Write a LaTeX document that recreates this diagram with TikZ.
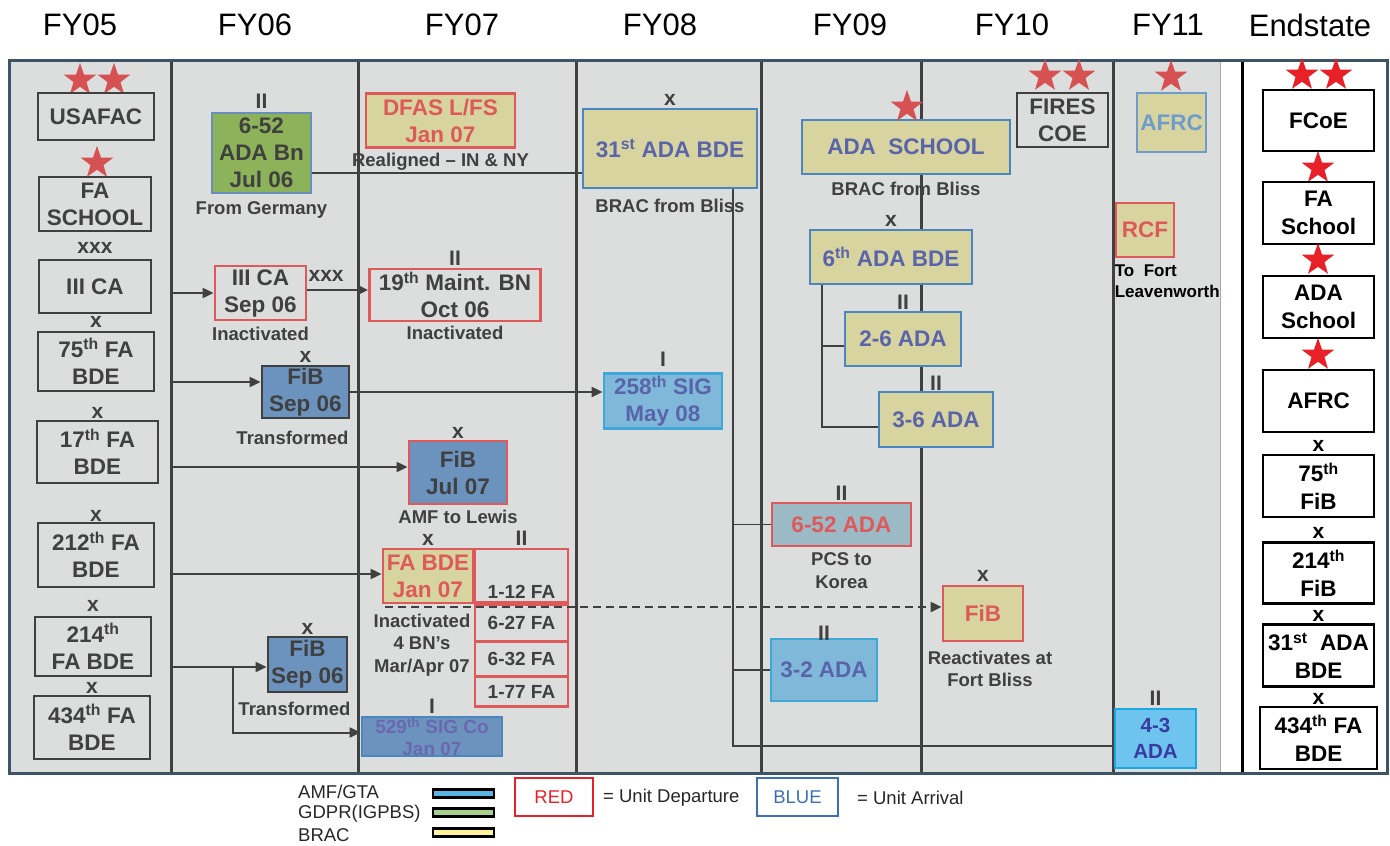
\documentclass[tikz,border=0pt]{standalone}
\usepackage{fontspec}
\setmainfont{Liberation Sans}
\usepackage{xcolor}
\usetikzlibrary{shapes.geometric,arrows.meta}

\definecolor{bggray}{HTML}{DCDDDD}
\definecolor{frameblue}{HTML}{3D5366}
\definecolor{ink}{HTML}{404040}
\definecolor{depred}{HTML}{DE5A5A}
\definecolor{arrblue}{HTML}{4A86C0}
\definecolor{adapurple}{HTML}{5A64AA}
\definecolor{brac}{HTML}{D7D4A0}
\definecolor{gdpr}{HTML}{8DB35A}
\definecolor{gdpredge}{HTML}{6A8FBF}
\definecolor{fibblue}{HTML}{6B93BD}
\definecolor{sigblue}{HTML}{7FB8D8}
\definecolor{sigedge}{HTML}{40A8D8}
\definecolor{sigtext}{HTML}{6A68B0}
\definecolor{koreablue}{HTML}{9BBAC5}
\definecolor{amfblue}{HTML}{6CC4EF}
\definecolor{amfedge}{HTML}{1AA8E0}
\definecolor{amftext}{HTML}{3A3AA0}
\definecolor{afrcblue}{HTML}{6F9CCC}
\definecolor{starred}{HTML}{D65252}
\definecolor{endred}{HTML}{E82028}
\definecolor{legblue}{HTML}{3D6FB5}
\definecolor{legamf}{HTML}{5AB4E5}
\definecolor{leggdpr}{HTML}{A8D08D}
\definecolor{legbrac}{HTML}{FFF29A}

\begin{document}
\begin{tikzpicture}[x=1pt, y=-1pt,
    unit/.style={draw=ink, line width=2.8pt, text=ink, font=\bfseries\fontsize{22.5}{27}\selectfont, align=center, inner sep=0pt},
    wh/.style 2 args={minimum width=#1pt, minimum height=#2pt},
    depart/.style={unit, draw=depred},
    arrive/.style={unit, draw=arrblue, text=adapurple, fill=brac},
    endunit/.style={unit, draw=black, text=black, fill=white, font=\bfseries\fontsize{22.5}{27.5}\selectfont},
    ech/.style={text=ink, font=\bfseries\fontsize{21}{21}\selectfont, inner sep=0pt},
    echelon/.style 2 args={label={[ech,label distance=#2pt]above:#1}},
    remark/.style={text=ink, font=\bfseries\fontsize{18.5}{22.5}\selectfont, align=center, inner sep=0pt},
    note/.style 2 args={label={[remark,label distance=#2pt]below:#1}},
    rank/.style={star, star points=5, star point ratio=2.5, fill=starred, inner sep=0pt, minimum size=34pt},
    year/.style={font=\fontsize{31}{31}\selectfont, text=black},
    link/.style={draw=ink, line width=1.3pt},
    move/.style={draw=ink, line width=2pt, -{Triangle[length=11pt,width=10pt]}},
    divider/.style={draw=ink, line width=3pt},
    legend/.style={font=\fontsize{18.5}{20}\selectfont, text=black!85, inner sep=0pt},
    bar/.style={draw=black, line width=2.2pt, inner sep=0pt}]
        \useasboundingbox (0,0) rectangle (1390,846);
        \fill[bggray] (9,60) rectangle (1220,773);
        \foreach \x in {171,358,576,761,921,1113}
            \draw[divider] (\x,60) -- (\x,773);
        \draw[gray!70, line width=1pt] (1220,60) -- (1220,773);
        \draw[black, line width=3pt] (1242,60) -- (1242,773);
        \draw[frameblue, line width=3pt] (9,60) rectangle (1387,773);
        \foreach \x/\t [count=\i] in {80/FY05,255/FY06,462/FY07,660/FY08,850/FY09,1012/FY10,1168/FY11,1310/Endstate}
            \node[year] (yr\i) at (\x,25) {\t};

        \node[rank] (st1) at (80,80) {};
        \node[rank] (st2) at (114,80) {};
        \node[unit, wh={116}{47}] (usafac) at (96,116.5) {USAFAC};
        \node[rank] (st3) at (97,163) {};
        \node[unit, wh={112}{54}] (faschool) at (95,204) {FA\\SCHOOL};
        \node[unit, wh={112}{53}, echelon={xxx}{5}] (ca05) at (95,286.5) {III CA};
        \node[unit, wh={116}{59}, echelon={x}{3}] (fa75) at (96,361.5) {75\textsuperscript{th} FA\\BDE};
        \node[unit, wh={121}{62}, echelon={x}{1}] (fa17) at (97.5,452) {17\textsuperscript{th} FA\\BDE};
        \node[unit, wh={116}{64}, echelon={x}{0}] (fa212) at (96,555) {212\textsuperscript{th} FA\\BDE};
        \node[unit, wh={116}{59}, echelon={x}{4}] (fa214) at (93,646.5) {214\textsuperscript{th}\\FA BDE};
        \node[unit, wh={116}{63}, echelon={x}{1}] (fa434) at (92,727.5) {434\textsuperscript{th} FA\\BDE};

        \node[unit, draw=gdpredge, fill=gdpr, wh={99}{80}, echelon={II}{3}, note={From Germany}{7}] (bn652) at (261.5,153) {6-52\\ADA Bn\\Jul 06};
        \node[depart, wh={91}{54}, note={Inactivated}{5}] (ca06) at (260.5,293) {III CA\\Sep 06};
        \node[ech, anchor=north west] (ca06x) at ([xshift=1pt,yshift=-6pt]ca06.north east) {xxx};
        \node[unit, fill=fibblue, wh={87}{52}, echelon={x}{2},
            label={[remark,xshift=-13pt,label distance=11pt]below:Transformed}] (fib06a) at (305.5,392) {FiB\\Sep 06};
        \node[unit, fill=fibblue, wh={79}{55}, echelon={x}{1},
            label={[remark,xshift=-13pt,label distance=8pt]below:Transformed}] (fib06b) at (307.5,664.5) {FiB\\Sep 06};
        \node[unit, draw=arrblue, fill=fibblue, text=sigtext, font=\bfseries\fontsize{19}{22}\selectfont, wh={140}{39}, echelon={I}{2}] (sig529) at (432,736.5) {529\textsuperscript{th} SIG Co\\Jan 07};

        \node[depart, fill=brac, text=depred, wh={149}{54}, note={Realigned – IN \& NY}{4}] (dfas) at (440.5,120.5) {DFAS L/FS\\Jan 07};
        \node[depart, wh={171}{52}, echelon={II}{2}, note={Inactivated}{3}] (maint19) at (455,295) {19\textsuperscript{th} Maint. BN\\Oct 06};
        \node[depart, fill=fibblue, wh={98}{63}, echelon={x}{1}, note={AMF to Lewis}{4}] (fib07) at (458,472.5) {FiB\\Jul 07};
        \node[depart, fill=brac, text=depred, wh={90}{54}, echelon={x}{2},
            label={[remark,xshift=-6pt,label distance=9pt]below:Inactivated\\4 BN’s\\Mar/Apr 07}] (fabde) at (428,576) {FA BDE\\Jan 07};
        \node[depart, font=\bfseries\fontsize{19}{23}\selectfont, wh={93}{53}, text height=45pt, text depth=0pt, echelon={II}{2}] (fa112) at (521.5,575.5) {1-12 FA};
        \node[depart, font=\bfseries\fontsize{19}{23}\selectfont, wh={93}{37}] (fa627) at (521.5,623) {6-27 FA};
        \node[depart, font=\bfseries\fontsize{19}{23}\selectfont, wh={93}{34}] (fa632) at (521.5,659) {6-32 FA};
        \node[depart, font=\bfseries\fontsize{19}{23}\selectfont, wh={93}{30}] (fa177) at (521.5,691.5) {1-77 FA};

        \node[arrive, wh={174}{79}, echelon={x}{2}, note={BRAC from Bliss}{9}] (bde31) at (670,148.5) {31\textsuperscript{st} ADA BDE};
        \node[unit, draw=sigedge, fill=sigblue, text=adapurple, wh={118}{55}, echelon={I}{5}] (sig258) at (663,401) {258\textsuperscript{th} SIG\\May 08};

        \node[arrive, wh={208}{54}, note={BRAC from Bliss}{6}] (adaschool) at (906,147) {ADA\ \ SCHOOL};
        \node[rank] (st4) at (907,107) {};
        \node[arrive, wh={162}{54}, echelon={x}{2}] (bde6) at (891,257) {6\textsuperscript{th} ADA BDE};
        \node[arrive, wh={116}{54}, echelon={II}{1}] (ada26) at (903,339) {2-6 ADA};
        \node[arrive, wh={114}{55}, echelon={II}{0}] (ada36) at (936,419.5) {3-6 ADA};
        \node[depart, fill=koreablue, text=depred, wh={139}{43}, echelon={II}{1}, note={PCS to\\Korea}{5}] (ada652) at (841.5,524.5) {6-52 ADA};
        \node[unit, draw=sigedge, fill=sigblue, text=adapurple, wh={106}{62}, echelon={II}{-3}] (ada32) at (824,670) {3-2 ADA};

        \node[rank] (st5) at (1045,76) {};
        \node[rank] (st6) at (1079,76) {};
        \node[unit, wh={91}{54}] (fires) at (1062.5,120) {FIRES\\COE};
        \node[depart, fill=brac, text=depred, wh={80}{55}, echelon={x}{3},
            label={[remark,xshift=7pt,label distance=8pt]below:Reactivates at\\Fort Bliss}] (fib10) at (983,613.5) {FiB};

        \node[rank] (st7) at (1171,77) {};
        \node[unit, draw=afrcblue, fill=brac, text=afrcblue, wh={69}{59}] (afrc11) at (1171.5,122.5) {AFRC};
        \node[depart, fill=brac, text=depred, wh={58}{54}] (rcf) at (1145,230) {RCF};
        \node[remark, text=black, align=left, font=\bfseries\fontsize{17}{21}\selectfont, anchor=north west] (rcfnote) at ([yshift=-6pt]rcf.south west) {To\ \ Fort\\Leavenworth};
        \node[unit, draw=amfedge, fill=amfblue, text=amftext, font=\bfseries\fontsize{20.5}{26}\selectfont, wh={81}{59}, echelon={II}{2}] (ada43) at (1155.5,738.5) {4-3\\ADA};

        \node[rank, fill=endred] (st8) at (1302,75) {};
        \node[rank, fill=endred] (st9) at (1336,75) {};
        \node[endunit, wh={111}{61}] (e1) at (1318.5,120.5) {FCoE};
        \node[rank, fill=endred] (st10) at (1318,168) {};
        \node[endunit, wh={111}{62}] (e2) at (1318.5,213) {FA\\School};
        \node[rank, fill=endred] (st11) at (1318,260) {};
        \node[endunit, wh={111}{62}] (e3) at (1318.5,307) {ADA\\School};
        \node[rank, fill=endred] (st12) at (1318,355) {};
        \node[endunit, wh={111}{62}] (e4) at (1318.5,401) {AFRC};
        \node[endunit, wh={111}{62}, label={[ech,text=black,label distance=2pt]above:x}] (e5) at (1318.5,486) {75\textsuperscript{th}\\FiB};
        \node[endunit, wh={111}{61}, label={[ech,text=black,label distance=2pt]above:x}] (e6) at (1318.5,573) {214\textsuperscript{th}\\FiB};
        \node[endunit, wh={111}{62}, label={[ech,text=black,label distance=1pt]above:x}] (e7) at (1318.5,655.5) {31\textsuperscript{st}\ \ ADA\\BDE};
        \node[endunit, wh={117}{62}, label={[ech,text=black,label distance=1pt]above:x}] (e8) at (1318.5,738) {434\textsuperscript{th} FA\\BDE};

        \coordinate (a1) at (171,293);
        \coordinate (a2) at (171,382);
        \coordinate (a3) at (171,467);
        \coordinate (a4) at (171,574);
        \coordinate (a5) at (171,667);
        \coordinate (a6) at (233,667);
        \draw[move] (a1) -- (ca06.west);
        \draw[move] (a2) -- (a2 -| fib06a.west);
        \draw[move] (a3) -- (a3 -| fib07.west);
        \draw[move] (a4) -- (a4 -| fabde.west);
        \draw[move] (a5) -- (a5 -| fib06b.west);
        \draw[move] (a6) |- ([yshift=4pt]sig529.west);
        \draw[move] ([yshift=3pt]ca06.east) -- ([yshift=3pt]ca06.east -| maint19.west);
        \draw[move] (fib06a.east) -- (fib06a.east -| sig258.west);
        \draw[link] ([yshift=-20pt]bn652.east) -- ([yshift=-20pt]bn652.east -| bde31.west);

        \coordinate (t1) at (733,746);
        \draw[link] (t1 |- bde31.south) -- (t1) -- (t1 -| ada43.west);
        \draw[link] (t1 |- ada652.west) -- (ada652.west);
        \draw[link] (t1 |- ada32.west) -- (ada32.west);
        \coordinate (t2) at (822,427);
        \coordinate (t3) at (822,346);
        \draw[link] (t2 |- bde6.south) -- (t2) -- (t2 -| ada36.west);
        \draw[link] (t3) -- (t3 -| ada26.west);
        \coordinate (d1) at (385,607);
        \draw[move, dash pattern=on 8pt off 5pt] (d1) -- (d1 -| fib10.west);

        \node[legend, anchor=west] (lg1) at (298,792) {AMF/GTA};
        \node[legend, anchor=west] (lg2) at (298,813.5) {GDPR(IGPBS)};
        \node[legend, anchor=west] (lg3) at (298,835) {BRAC};
        \node[bar, fill=legamf, wh={61}{8}] (bar1) at (463.5,793.5) {};
        \node[bar, fill=leggdpr, wh={61}{8}] (bar2) at (463.5,812.5) {};
        \node[bar, fill=legbrac, wh={61}{8}] (bar3) at (463.5,832.5) {};
        \node[legend, draw=endred, line width=2.2pt, text=endred, wh={78}{38}] (lgred) at (554,797) {RED};
        \node[legend, anchor=west] (lgdep) at (603,798) {= Unit Departure};
        \node[legend, draw=legblue, line width=2.2pt, text=legblue, wh={81}{38}] (lgblue) at (797.5,797) {BLUE};
        \node[legend, anchor=west] (lgarr) at (857,798) {= Unit Arrival};
\end{tikzpicture}
\end{document}
